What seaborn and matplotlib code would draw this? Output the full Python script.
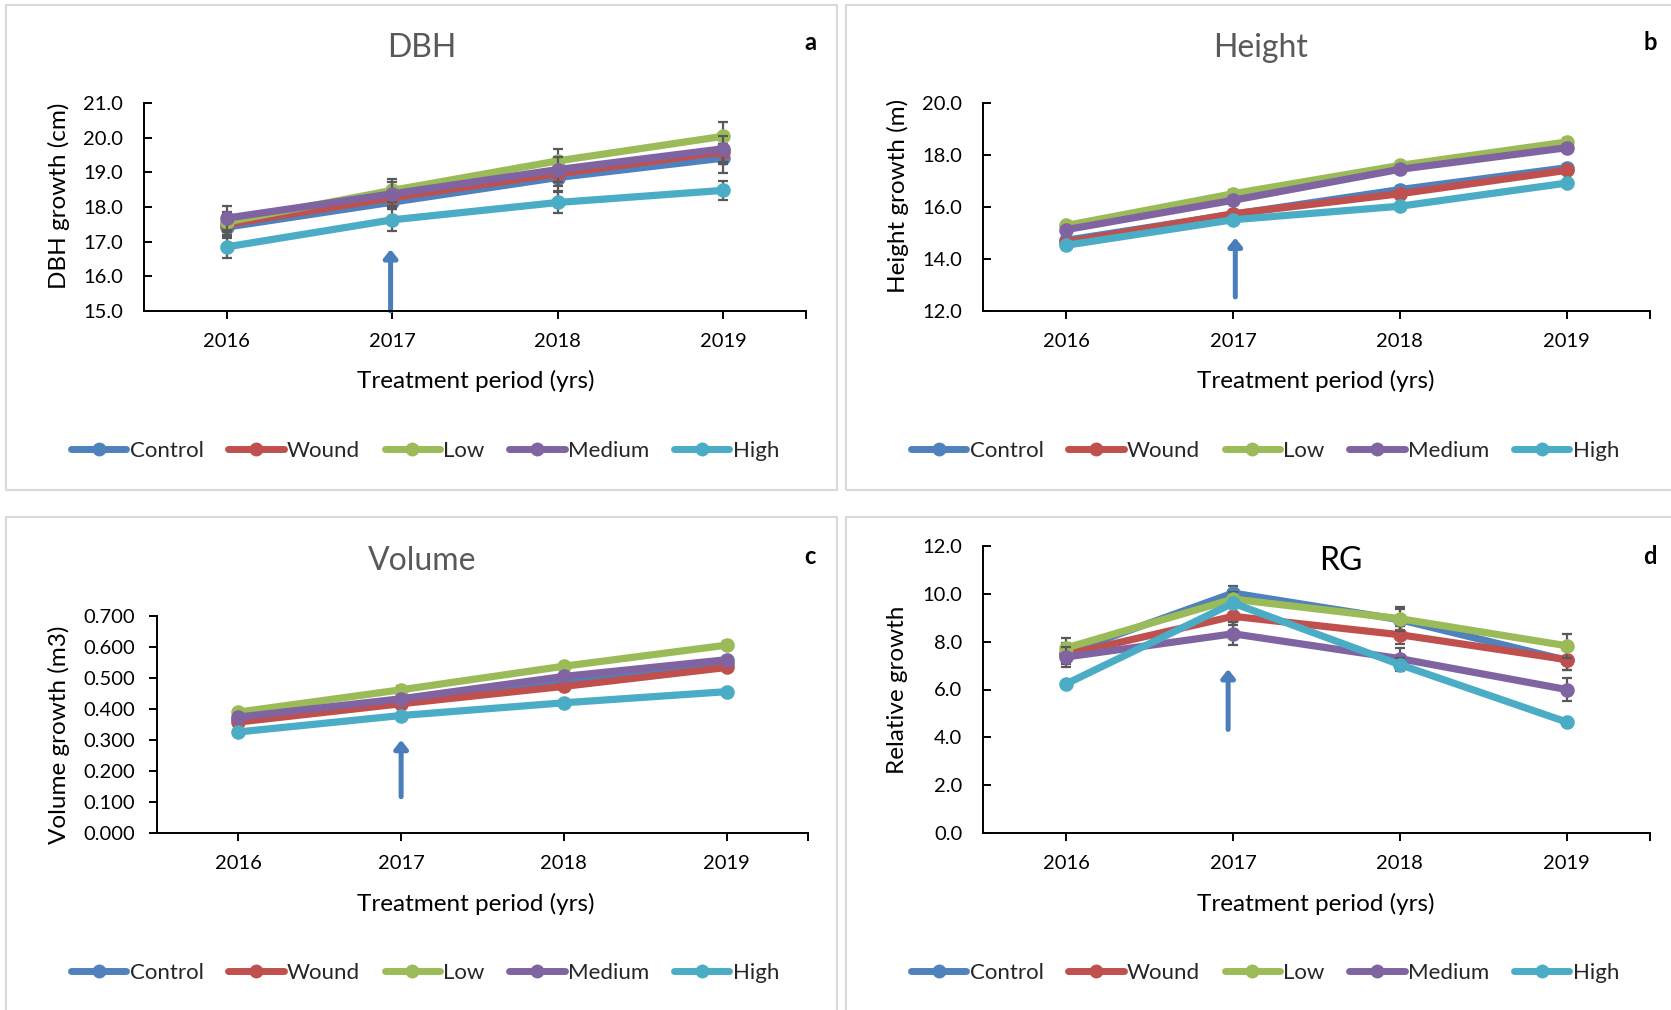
import numpy as np
import pandas as pd
import matplotlib
matplotlib.use("Agg")
import matplotlib.pyplot as plt
from matplotlib.patches import Rectangle
from matplotlib.lines import Line2D
from matplotlib.ticker import FormatStrFormatter, FixedLocator
import seaborn as sns

# ---------------------------------------------------------------- data
years = ["2016", "2017", "2018", "2019"]
treatments = ["Control", "Wound", "Low", "Medium", "High"]
colors = ["#4F81BD", "#C0504D", "#9BBB59", "#8064A2", "#4BACC6"]

# DBH growth (cm)
dbh_control = [17.42, 18.14, 18.85, 19.41]
dbh_wound = [17.50, 18.27, 18.96, 19.59]
dbh_low = [17.57, 18.48, 19.33, 20.04]
dbh_medium = [17.68, 18.38, 19.08, 19.68]
dbh_high = [16.85, 17.63, 18.13, 18.48]
dbh_err_control = [0.30, 0.20, 0.40, 0.42]
dbh_err_wound = [0.30, 0.30, 0.35, 0.35]
dbh_err_low = [0.30, 0.34, 0.35, 0.41]
dbh_err_medium = [0.35, 0.35, 0.35, 0.38]
dbh_err_high = [0.32, 0.32, 0.29, 0.27]

# Height growth (m)
ht_control = [14.72, 15.72, 16.67, 17.51]
ht_wound = [14.65, 15.74, 16.51, 17.41]
ht_low = [15.29, 16.51, 17.60, 18.50]
ht_medium = [15.13, 16.26, 17.45, 18.28]
ht_high = [14.53, 15.51, 16.03, 16.92]
ht_err_control = [0.10, 0.12, 0.14, 0.16]
ht_err_wound = [0.10, 0.10, 0.12, 0.14]
ht_err_low = [0.12, 0.14, 0.13, 0.16]
ht_err_medium = [0.10, 0.12, 0.12, 0.14]
ht_err_high = [0.08, 0.10, 0.10, 0.10]

# Volume growth (m3)
vol_control = [0.369, 0.430, 0.492, 0.550]
vol_wound = [0.358, 0.417, 0.473, 0.534]
vol_low = [0.390, 0.462, 0.538, 0.606]
vol_medium = [0.374, 0.433, 0.505, 0.559]
vol_high = [0.326, 0.379, 0.420, 0.456]
vol_err_control = [0.010, 0.010, 0.012, 0.012]
vol_err_wound = [0.010, 0.010, 0.012, 0.012]
vol_err_low = [0.010, 0.012, 0.012, 0.014]
vol_err_medium = [0.010, 0.010, 0.012, 0.012]
vol_err_high = [0.008, 0.008, 0.008, 0.008]

# Relative growth
rg_control = [7.53, 10.03, 8.92, 7.22]
rg_wound = [7.46, 9.06, 8.29, 7.25]
rg_low = [7.74, 9.78, 8.96, 7.83]
rg_medium = [7.36, 8.33, 7.29, 6.00]
rg_high = [6.24, 9.61, 7.04, 4.64]
rg_err_control = [0.40, 0.30, 0.45, 0.42]
rg_err_wound = [0.40, 0.35, 0.37, 0.42]
rg_err_low = [0.40, 0.30, 0.50, 0.50]
rg_err_medium = [0.43, 0.48, 0.45, 0.48]
rg_err_high = [0.10, 0.10, 0.28, 0.10]

# ---------------------------------------------------------------- style
sns.set_theme(style="white")
plt.rcParams["font.family"] = ["Lato", "DejaVu Sans"]

W, H = 1671, 1010
fig = plt.figure(figsize=(W / 100, H / 100), dpi=100)
fig.patch.set_facecolor("white")

TICK_FS = 14.5
LABEL_FS = 17.5
LEGEND_FS = 16
TITLE_FS = 23


def fx(px):
    return px / W


def fy(py):
    return 1 - py / H


def add_axes(left, top, right, bottom):
    return fig.add_axes([fx(left), fy(bottom), (right - left) / W, (bottom - top) / H])


# panel frames
for (l, t, r, b) in [(6, 5, 837, 490), (846, 5, 1690, 490),
                     (6, 517, 837, 1030), (846, 517, 1690, 1030)]:
    fig.patches.append(Rectangle((fx(l), fy(b)), (r - l) / W, (b - t) / H,
                                 transform=fig.transFigure, fill=False,
                                 edgecolor="#D9D9D9", linewidth=1.5, zorder=0))

positions = np.arange(len(years))


def draw_panel(ax, means, errs, ylim, yticks, fmt, ytick_dir, arrow):
    for i, (name, m, e, c) in enumerate(zip(treatments, means, errs, colors)):
        ax.errorbar(positions, m, yerr=e, fmt="none", ecolor="#595959",
                    elinewidth=1.6, capsize=3.8, capthick=1.6, zorder=3 + 2 * i)
        df = pd.DataFrame({"pos": positions, "value": m, "treatment": name})
        sns.lineplot(data=df, x="pos", y="value", color=c, marker="o",
                     markersize=10.5, markeredgewidth=0, linewidth=5.2,
                     solid_capstyle="round", solid_joinstyle="round",
                     legend=False, ax=ax, zorder=4 + 2 * i, sort=False)

    ax.set_xlim(-0.5, 3.5)
    ax.set_ylim(*ylim)
    ax.set_xticks(positions)
    ax.set_xticklabels(years)
    ax.xaxis.set_minor_locator(FixedLocator([3.5]))
    ax.set_yticks(yticks)
    ax.yaxis.set_major_formatter(FormatStrFormatter(fmt))
    ax.set_xlabel("")
    ax.set_ylabel("")
    for s in ["top", "right"]:
        ax.spines[s].set_visible(False)
    for s in ["left", "bottom"]:
        ax.spines[s].set_color("black")
        ax.spines[s].set_linewidth(1.4)
    ax.tick_params(axis="x", which="both", direction="out", length=6, width=1.4,
                   color="black", labelsize=TICK_FS, pad=10, labelcolor="black",
                   bottom=True)
    ax.tick_params(axis="y", direction=ytick_dir, length=6, width=1.4,
                   color="black", labelsize=TICK_FS,
                   pad=(15 if ytick_dir == "in" else 10), labelcolor="black",
                   left=True)
    ax.set_facecolor("none")
    ax.grid(False)

    ax_x, y0, y1 = arrow
    ax.annotate("", xy=(ax_x, y1), xytext=(ax_x, y0),
                arrowprops=dict(arrowstyle="-|>,head_length=0.35,head_width=0.28",
                                color="#4A7EBB", lw=3.6, shrinkA=0, shrinkB=0,
                                mutation_scale=14),
                zorder=2, annotation_clip=False)


ax_a = add_axes(144, 103, 806, 311)
draw_panel(ax_a,
           [dbh_control, dbh_wound, dbh_low, dbh_medium, dbh_high],
           [dbh_err_control, dbh_err_wound, dbh_err_low, dbh_err_medium, dbh_err_high],
           (15, 21), np.arange(15, 21.01, 1), "%.1f", "in", (0.99, 15.0, 16.78))

ax_b = add_axes(983, 103, 1650, 311)
draw_panel(ax_b,
           [ht_control, ht_wound, ht_low, ht_medium, ht_high],
           [ht_err_control, ht_err_wound, ht_err_low, ht_err_medium, ht_err_high],
           (12, 20), np.arange(12, 20.01, 2), "%.1f", "in", (1.013, 12.54, 14.82))

ax_c = add_axes(157, 616, 808, 833)
draw_panel(ax_c,
           [vol_control, vol_wound, vol_low, vol_medium, vol_high],
           [vol_err_control, vol_err_wound, vol_err_low, vol_err_medium, vol_err_high],
           (0, 0.7), np.arange(0, 0.701, 0.1), "%.3f", "out", (1.0, 0.117, 0.30))

ax_d = add_axes(983, 546, 1650, 833)
draw_panel(ax_d,
           [rg_control, rg_wound, rg_low, rg_medium, rg_high],
           [rg_err_control, rg_err_wound, rg_err_low, rg_err_medium, rg_err_high],
           (0, 12), np.arange(0, 12.01, 2), "%.1f", "in", (0.97, 4.33, 6.85))

# titles
fig.text(fx(422), fy(48), "DBH", ha="center", va="center", fontsize=TITLE_FS, color="#595959")
fig.text(fx(1261), fy(48), "Height", ha="center", va="center", fontsize=TITLE_FS, color="#595959")
fig.text(fx(422), fy(561), "Volume", ha="center", va="center", fontsize=TITLE_FS, color="#595959")
fig.text(fx(1341), fy(561), "RG", ha="center", va="center", fontsize=TITLE_FS, color="black")

# panel letters
for lbl, x, y in [("a", 810, 43), ("b", 1650, 43), ("c", 810, 557), ("d", 1650, 557)]:
    fig.text(fx(x), fy(y), lbl, ha="center", va="center", fontsize=17,
             fontweight="bold", color="black")

# axis labels
for x, y in [(476, 381), (1316, 381), (476, 904), (1316, 904)]:
    fig.text(fx(x), fy(y), "Treatment period (yrs)", ha="center", va="center",
             fontsize=LABEL_FS, color="black")
for lbl, x, y in [("DBH growth (cm)", 59, 196), ("Height growth (m)", 898, 196),
                  ("Volume growth (m3)", 59, 735), ("Relative growth", 898, 690)]:
    fig.text(fx(x), fy(y), lbl, ha="center", va="center", rotation=90,
             fontsize=LABEL_FS, color="black")

# legends
handles = [Line2D([], [], color=c, lw=5, marker="o", markersize=10,
                  markeredgewidth=0, solid_capstyle="round") for c in colors]
for ax, x, y in [(ax_a, 425, 451), (ax_b, 1265, 451), (ax_c, 425, 973), (ax_d, 1265, 973)]:
    ax.legend(handles, treatments, loc="center", bbox_to_anchor=(fx(x), fy(y)),
              bbox_transform=fig.transFigure, ncol=5, frameon=False,
              fontsize=LEGEND_FS, handlelength=2.5, handletextpad=0.15,
              columnspacing=1.1, borderpad=0)

fig.savefig("out.png", dpi=100, facecolor="white")
